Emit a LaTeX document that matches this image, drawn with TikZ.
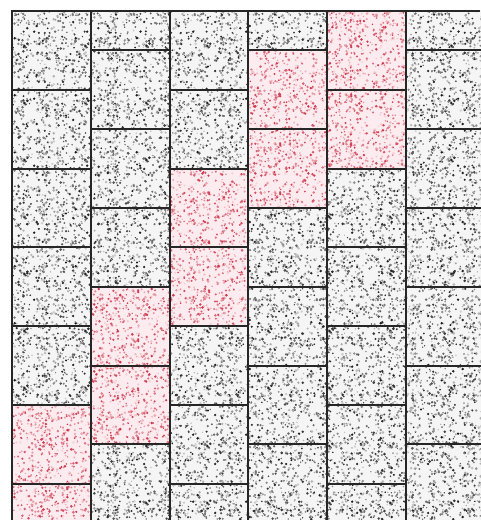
\documentclass[tikz,border=0pt]{standalone}
\usetikzlibrary{patterns}
\definecolor{myred}{RGB}{200,30,55}
\definecolor{pinkbg}{RGB}{252,235,239}
\definecolor{graybg}{RGB}{245,245,245}
\definecolor{jointc}{RGB}{38,38,38}
\tikzset{joint/.style={draw=jointc,line width=2pt}}
\pgfmathsetseed{7}
\newcommand\mydotcell[3]{% dot colour, cell width, cell height
  \foreach \i in {1,...,80}{%
    \pgfmathtruncatemacro\s{18+72*rnd}%
    \pgfmathsetmacro\px{1.8+(#2-3.6)*rnd}%
    \pgfmathsetmacro\py{1.8+(#3-3.6)*rnd}%
    \pgfmathsetmacro\pr{0.7+0.8*rnd}%
    \pgfsetfillcolor{#1!\s!white}%
    \pgfpathcircle{\pgfpoint{\px pt}{\py pt}}{\pr pt}%
    \pgfusepath{fill}%
  }%
}
\newcommand\mydotpattern[4]{% name, colour, w, h
  \pgfdeclarepatterninherentlycolored{#1}{\pgfpointorigin}{\pgfpoint{#3pt}{#4pt}}{\pgfpoint{#3pt}{#4pt}}{\mydotcell{#2}{#3}{#4}}}
\mydotpattern{grayA}{black}{61}{57}
\mydotpattern{grayB}{black}{53}{67}
\mydotpattern{grayC}{black}{71}{49}
\mydotpattern{redA}{myred}{61}{57}
\mydotpattern{redB}{myred}{53}{67}
\mydotpattern{redC}{myred}{71}{49}
\expandafter\def\csname red@0-5\endcsname{}
\expandafter\def\csname red@0-6\endcsname{}
\expandafter\def\csname red@1-4\endcsname{}
\expandafter\def\csname red@1-5\endcsname{}
\expandafter\def\csname red@2-2\endcsname{}
\expandafter\def\csname red@2-3\endcsname{}
\expandafter\def\csname red@3-1\endcsname{}
\expandafter\def\csname red@3-2\endcsname{}
\expandafter\def\csname red@4-0\endcsname{}
\expandafter\def\csname red@4-1\endcsname{}
\begin{document}
\begin{tikzpicture}[x=1pt,y=-1pt]
\useasboundingbox (0,0) rectangle (480,520);
\fill[white] (0,0) rectangle (480,520);
\begin{scope}
\clip (12,10) rectangle (481,521);
% pass 1: paver surfaces with stipple
\foreach \c in {0,...,5}{
  \pgfmathsetmacro\xa{round(12+78.8*\c)}
  \pgfmathsetmacro\xb{round(12+78.8*(\c+1))}
  \pgfmathsetmacro\yo{isodd(\c) ? -28.4 : 11}
  \foreach \k in {0,...,7}{
    \pgfmathsetmacro\ya{round(\yo+78.8*\k)}
    \pgfmathsetmacro\yb{round(\yo+78.8*(\k+1))}
    \ifdim\ya pt<521pt
      \edef\key{\c-\k}%
      \ifcsname red@\key\endcsname
        \def\bgc{pinkbg}\def\pfx{red}%
      \else
        \def\bgc{graybg}\def\pfx{gray}%
      \fi
      \fill[\bgc] (\xa,\ya) rectangle (\xb,\yb);
      \foreach \q in {A,B,C}{
        \fill[pattern=\pfx\q] (\xa,\ya) rectangle (\xb,\yb);
      }
    \fi
  }
}
% pass 2: joints
\foreach \c in {0,...,5}{
  \pgfmathsetmacro\xa{round(12+78.8*\c)}
  \pgfmathsetmacro\xb{round(12+78.8*(\c+1))}
  \pgfmathsetmacro\yo{isodd(\c) ? -28.4 : 11}
  \foreach \k in {0,...,7}{
    \pgfmathsetmacro\ya{round(\yo+78.8*\k)}
    \pgfmathsetmacro\yb{round(\yo+78.8*(\k+1))}
    \ifdim\ya pt<521pt
      \draw[joint] (\xa,\ya) rectangle (\xb,\yb);
    \fi
  }
}
\end{scope}
\draw[joint] (12,520) -- (12,11) -- (480,11);
\end{tikzpicture}
\end{document}
